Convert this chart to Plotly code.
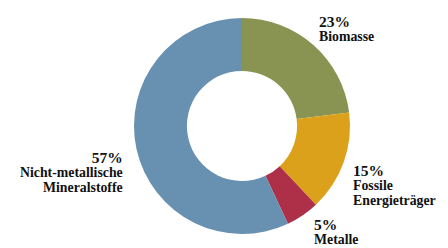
import plotly.graph_objects as go

categories = ["Biomasse", "Fossile Energieträger", "Metalle", "Nicht-metallische Mineralstoffe"]
values = [23, 15, 5, 57]
label_lines = [["Biomasse"], ["Fossile", "Energieträger"], ["Metalle"], ["Nicht-metallische", "Mineralstoffe"]]
colors = ["#8a9452", "#dca11b", "#ad2f48", "#6890b0"]

OFF = 8  # page body margin
W, H = 448 - OFF, 248 - OFF
cx, cy, r = 242 - OFF, 126 - OFF, 108

fig = go.Figure(go.Pie(
    labels=categories, values=values, sort=False, direction="clockwise", rotation=0,
    hole=0.51, textinfo="none", hoverinfo="label+percent",
    marker=dict(colors=colors, line=dict(width=0)),
    domain=dict(x=[(cx - r) / W, (cx + r) / W], y=[(H - cy - r) / H, (H - cy + r) / H]),
    showlegend=False,
))

# (x, vertical centre of the label group, alignment) in page pixels
anchors = [(318, 28.5, "left"), (352, 185, "left"), (313, 231.5, "left"), (124, 172, "right")]
font = "Liberation Serif, Times New Roman, serif"
anns = []
for (x, yc, al), v, lines in zip(anchors, values, label_lines):
    x -= OFF
    yc -= OFF
    parts = [f"<span style='font-size:15.5px'><b>{v}%</b></span>"]
    parts += [f"<span style='font-size:13.8px'><b>{ln}</b></span>" for ln in lines]
    anns.append(dict(x=x / W, y=1 - yc / H, xref="paper", yref="paper", xanchor=al, yanchor="middle",
                     text="<br>".join(parts), showarrow=False, align=al, borderpad=0,
                     font=dict(family=font, size=11, color="#111")))

fig.update_layout(width=W, height=H, margin=dict(l=0, r=0, t=0, b=0),
                  paper_bgcolor="white", plot_bgcolor="white", annotations=anns)
fig.write_html("out.html")
